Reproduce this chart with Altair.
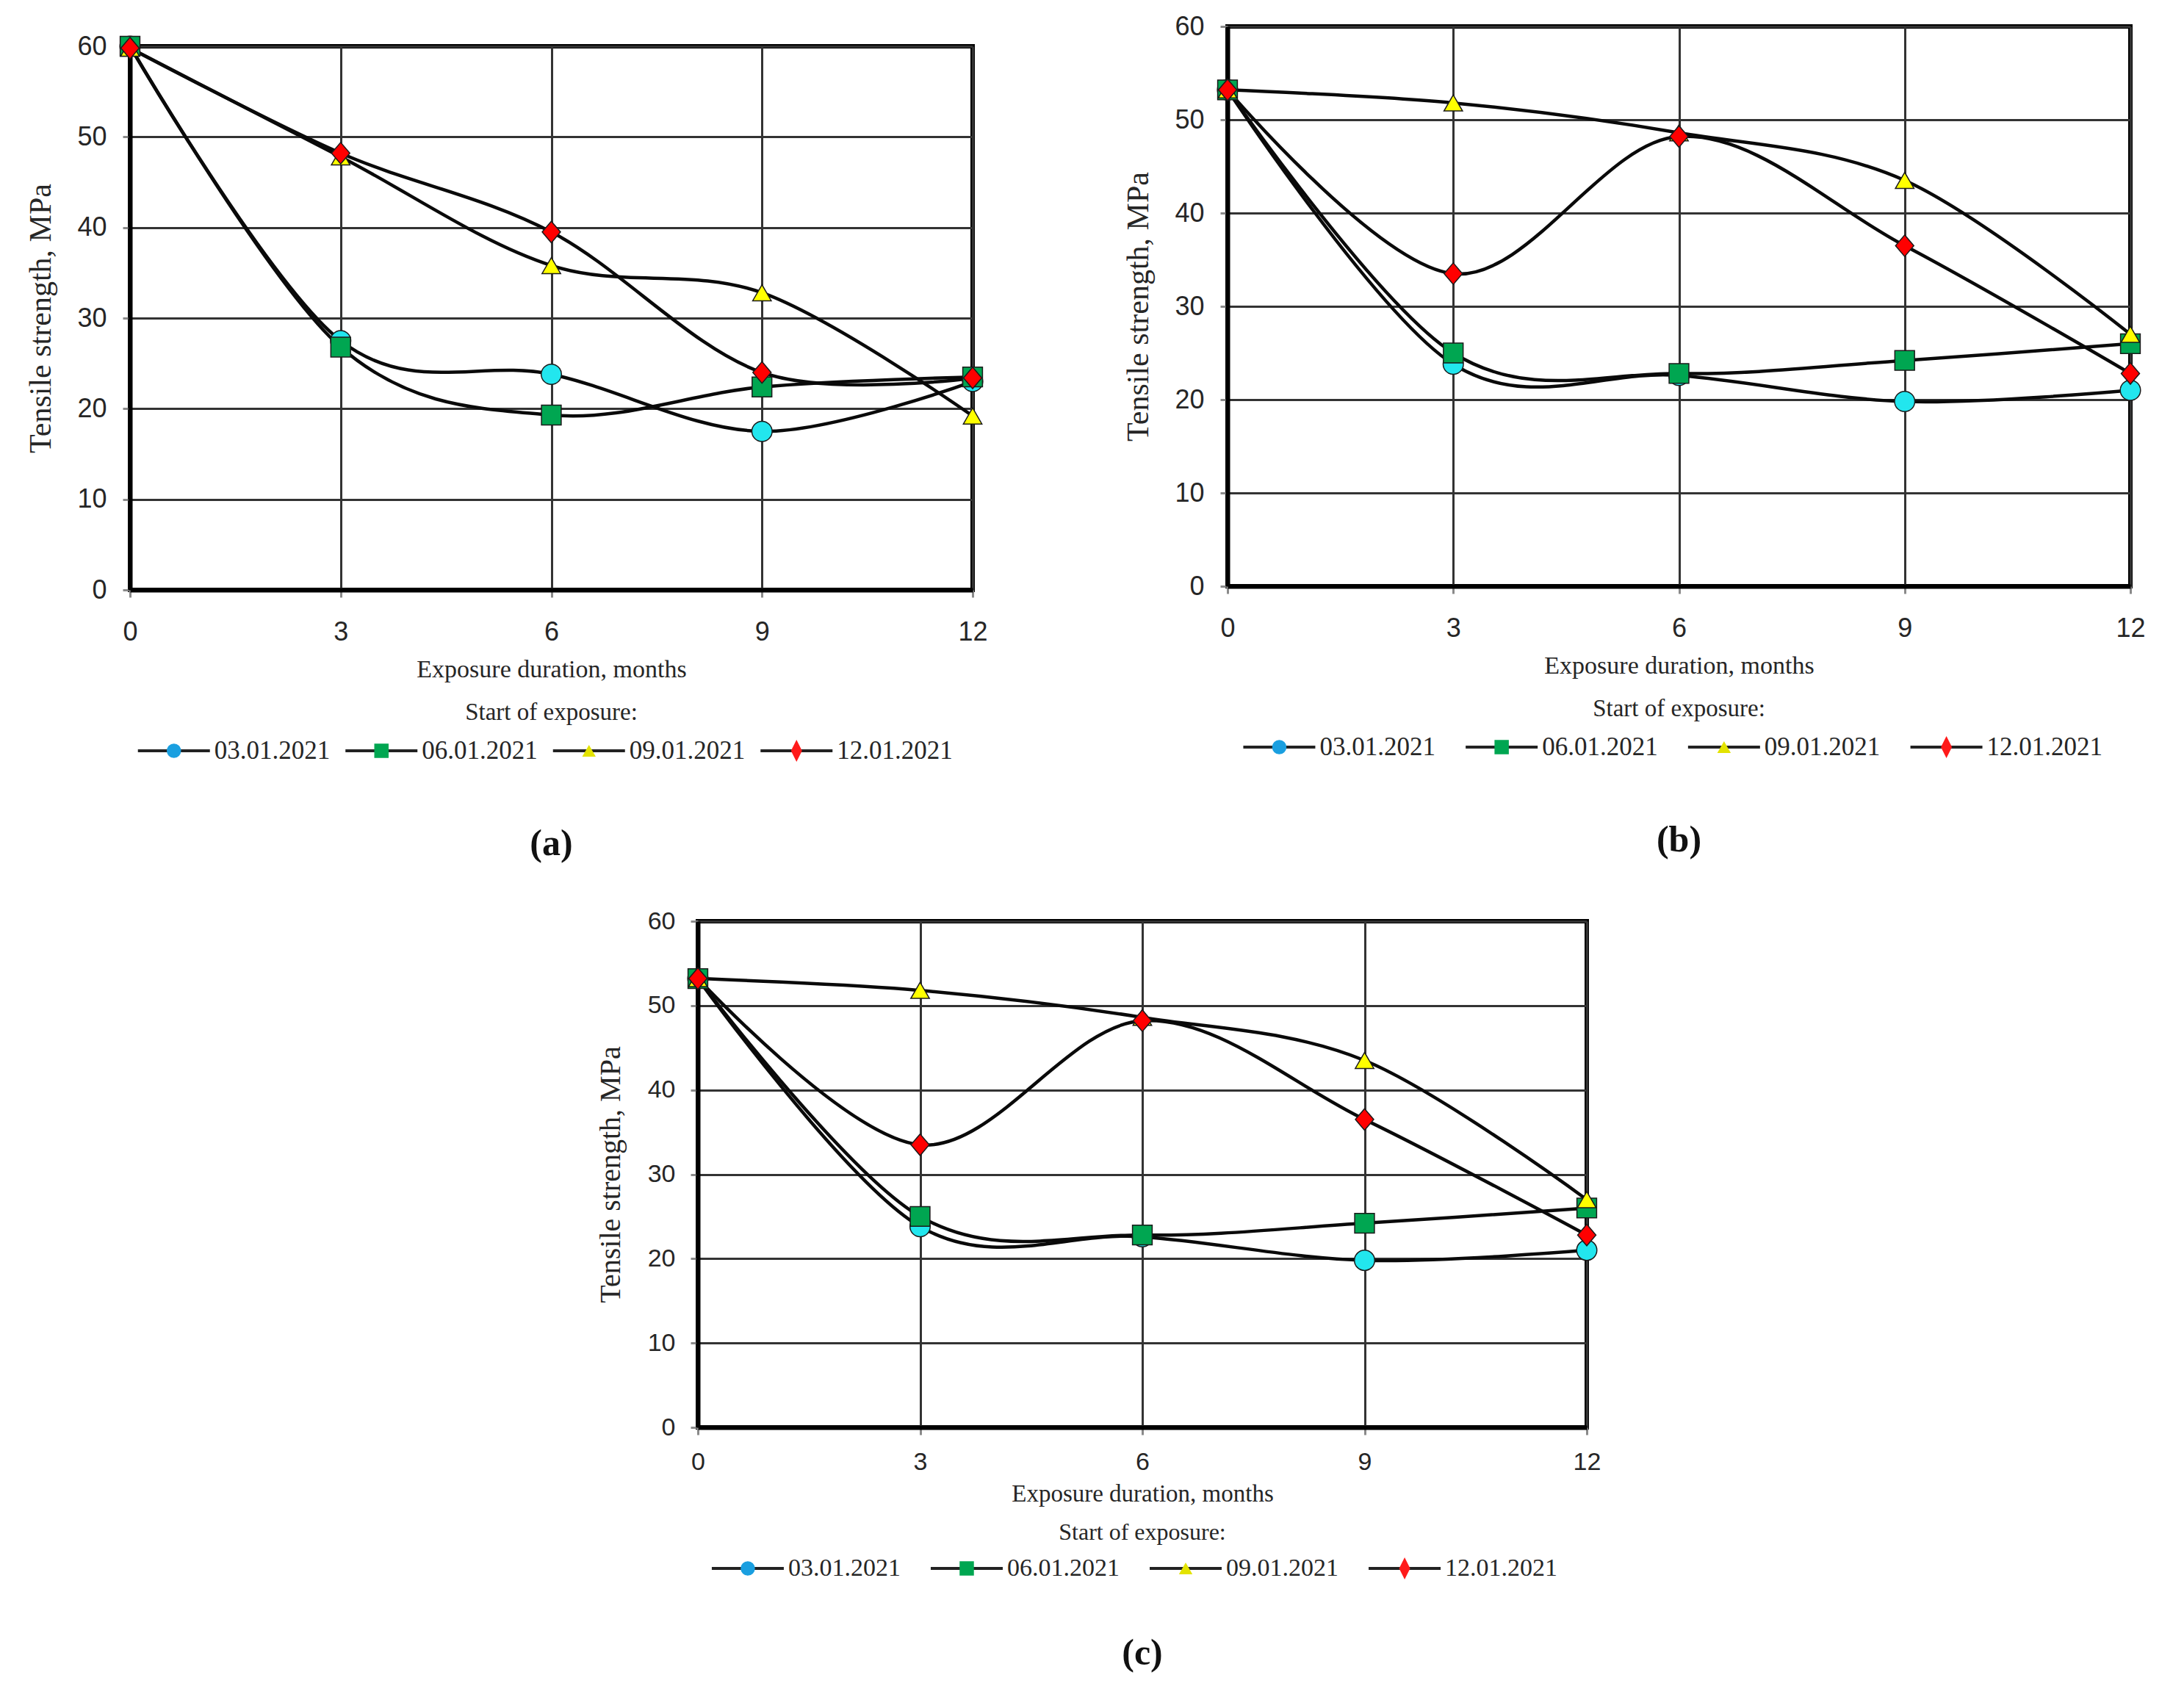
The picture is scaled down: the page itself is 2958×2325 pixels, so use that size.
import altair as alt
import pandas as pd

# ---------------- data ----------------
MONTHS = [0, 3, 6, 9, 12]
SERIES = ["03.01.2021", "06.01.2021", "09.01.2021", "12.01.2021"]

# panel (a)
A_0301 = [60.0, 27.5, 23.8, 17.5, 23.0]
A_0601 = [60.0, 26.8, 19.3, 22.4, 23.5]
A_0901 = [59.8, 47.8, 35.8, 32.8, 19.2]
A_1201 = [59.8, 48.2, 39.5, 24.0, 23.4]

# panel (b)
B_0301 = [53.2, 23.8, 22.6, 19.8, 21.0]
B_0601 = [53.2, 25.0, 22.8, 24.2, 26.0]
B_0901 = [53.2, 51.8, 48.6, 43.5, 27.0]
B_1201 = [53.2, 33.5, 48.2, 36.5, 22.8]

# panel (c)
C_0301 = [53.2, 23.8, 22.6, 19.8, 21.0]
C_0601 = [53.2, 25.0, 22.8, 24.2, 26.0]
C_0901 = [53.2, 51.8, 48.6, 43.5, 27.0]
C_1201 = [53.2, 33.5, 48.2, 36.5, 22.8]

PANEL_LABELS = ["(a)", "(b)", "(c)"]
X_TICKS = [0, 3, 6, 9, 12]
Y_TICKS = [0, 10, 20, 30, 40, 50, 60]
X_TITLE = "Exposure duration, months"
Y_TITLE = "Tensile strength, MPa"
LEGEND_TITLE = "Start of exposure:"

# ---------------- styles ----------------
SERIF = "Liberation Serif"
SANS = "Liberation Sans"
TXT = "#262626"

PLOT_MARKS = [
    dict(shape="circle", fill="#22e6ee", size=760),
    dict(shape="square", fill="#00a651", size=720),
    dict(shape="triangle-up", fill="#ffff00", size=640),
    dict(shape="M0,-1L0.85,0L0,1L-0.85,0Z", fill="#ff0000", size=860),
]
LEG_MARKS = [
    dict(shape="circle", fill="#1a9fe0", size=380),
    dict(shape="square", fill="#00a651", size=380),
    dict(shape="triangle-up", fill="#e3e300", size=340),
    dict(shape="M0,-1L0.5,0L0,1L-0.5,0Z", fill="#ff1a1a", size=900),
]


def plot_chart(vals, W, H, fs_tick, fs_title, fs_ytitle, lpx, tpx, lpy, tpy):
    rows = []
    for s, sv in zip(SERIES, vals):
        for m, v in zip(MONTHS, sv):
            rows.append({"month": m, "value": v, "series": s})
    df = pd.DataFrame(rows)
    common = dict(
        grid=True, gridColor="#333333", gridWidth=3,
        domainColor="#000000", domainWidth=6,
        tickColor="#8a8a8a", tickWidth=3, tickSize=10,
        labelFont=SANS, labelFontSize=fs_tick, labelColor=TXT,
        titleFont=SERIF, titleFontWeight="normal",
        titleColor=TXT, labelOverlap=False,
    )
    x = alt.X("month:Q", scale=alt.Scale(domain=[0, 12], nice=False, zero=False),
              axis=alt.Axis(values=X_TICKS, title=X_TITLE, labelFlush=False,
                            titleFontSize=fs_title,
                            labelPadding=lpx, titlePadding=tpx, **common))
    y = alt.Y("value:Q", scale=alt.Scale(domain=[0, 60], nice=False),
              axis=alt.Axis(values=Y_TICKS, title=Y_TITLE,
                            titleFontSize=fs_ytitle,
                            labelPadding=lpy, titlePadding=tpy, **common))
    base = alt.Chart(df)
    lines = base.mark_line(interpolate="cardinal", color="#0a0a0a",
                           strokeWidth=4.5).encode(x=x, y=y, detail="series:N")
    layers = [lines]
    for s, mk in zip(SERIES, PLOT_MARKS):
        layers.append(
            base.transform_filter(alt.datum.series == s)
            .mark_point(filled=True, opacity=1, shape=mk["shape"], fill=mk["fill"],
                        stroke="#1a1a1a", strokeWidth=1.5, size=mk["size"])
            .encode(x=x, y=y)
        )
    return alt.layer(*layers).properties(
        width=W, height=H,
        view=alt.ViewBackground(stroke="#000000", strokeWidth=6))


def legend_chart(W, H, fs, title_fs, title_offset):
    df = pd.DataFrame({"item": SERIES})
    xenc = alt.X("item:N", sort=SERIES,
                 scale=alt.Scale(type="point", padding=0.53), axis=None)
    line = alt.Chart(df).mark_point(shape="M-1,0L1,0", size=9604, filled=False,
                                    stroke="#222222", strokeWidth=4, opacity=1,
                                    xOffset=-90).encode(x=xenc)
    layers = [line]
    for s, mk in zip(SERIES, LEG_MARKS):
        layers.append(
            alt.Chart(df).transform_filter(alt.datum.item == s)
            .mark_point(filled=True, opacity=1, shape=mk["shape"], fill=mk["fill"],
                        strokeWidth=0, size=mk["size"], xOffset=-90)
            .encode(x=xenc)
        )
    text = alt.Chart(df).mark_text(align="left", baseline="middle", dx=-35,
                                   font=SERIF, fontSize=fs, color=TXT).encode(
        x=xenc, text="item:N")
    layers.append(text)
    return alt.layer(*layers).properties(
        width=W, height=H,
        title=alt.TitleParams(LEGEND_TITLE, font=SERIF, fontSize=title_fs,
                              fontWeight="normal", color=TXT, anchor="middle",
                              offset=title_offset))


def label_chart(label, W, H, dy, fs):
    return alt.Chart(pd.DataFrame({"label": [label]})).mark_text(
        font=SERIF, fontSize=fs, fontWeight="bold", color="#111111", dy=dy
    ).encode(text="label:N").properties(width=W, height=H)


def blank(W, H):
    return alt.Chart(pd.DataFrame({"v": [0]})).mark_point(opacity=0).properties(
        width=W, height=H, view=alt.ViewBackground(fill="#ffffff", stroke=None))


# panel (a)
Wa, Ha = 1147, 740
panel_a = alt.vconcat(
    plot_chart([A_0301, A_0601, A_0901, A_1201], Wa, Ha, 36, 34, 42, 30, 16, 22, 27),
    legend_chart(Wa, 60, 35, 33, 5),
    label_chart(PANEL_LABELS[0], Wa, 100, 24, 50),
    spacing=23,
)
panel_a = alt.vconcat(blank(Wa, 1), panel_a, spacing=2)

# panel (b)
Wb, Hb = 1229, 762
panel_b = alt.vconcat(
    plot_chart([B_0301, B_0601, B_0901, B_1201], Wb, Hb, 36, 34, 42, 30, 16, 22, 27),
    legend_chart(Wb, 60, 35, 33, 5),
    label_chart(PANEL_LABELS[1], Wb, 100, 24, 50),
    spacing=23,
)

# panel (c)
Wc, Hc = 1210, 689
panel_c = alt.vconcat(
    plot_chart([C_0301, C_0601, C_0901, C_1201], Wc, Hc, 34, 33, 40, 20, 10, 21, 30),
    legend_chart(Wc, 54, 34, 32, 5),
    label_chart(PANEL_LABELS[2], Wc, 100, 22, 50),
    spacing=17,
)

row1 = alt.hconcat(panel_a, panel_b, spacing=177)
row2 = alt.hconcat(blank(631, 10), panel_c, spacing=0)

chart = alt.vconcat(row1, row2, spacing=59).configure_view(stroke=None).properties(
    padding={"left": 23, "top": 7, "right": 0, "bottom": 0},
    background="white",
)

chart.save("out.html", embed_options={"renderer": "svg", "actions": False})
